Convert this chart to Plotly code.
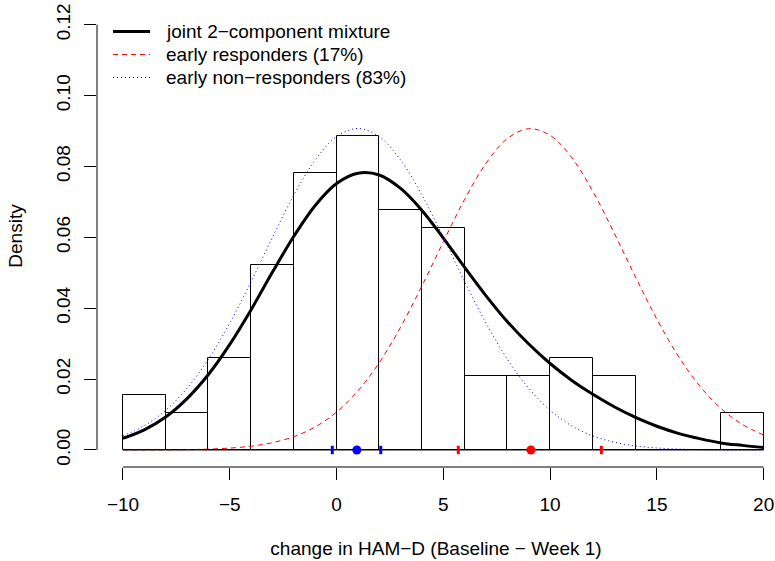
import plotly.graph_objects as go

# Histogram (density scale), bins of width 2
bin_left = [-10, -8, -6, -4, -2, 0, 2, 4, 6, 8, 10, 12, 14, 16, 18]
bin_width = 2
bin_density = [0.0156, 0.0104, 0.0260, 0.0521, 0.0781, 0.0885, 0.0677, 0.0625,
               0.0208, 0.0208, 0.0260, 0.0208, 0.0, 0.0, 0.0104]

# Density curves at integer x
curve_x = list(range(-10, 21))
mixture_y = [0.0033, 0.0057, 0.0093, 0.0145, 0.0213, 0.0298, 0.0396, 0.0502, 0.0603,
             0.0690, 0.0752, 0.0781, 0.0776, 0.0738, 0.0676, 0.0598, 0.0515, 0.0435,
             0.0362, 0.0299, 0.0244, 0.0197, 0.0157, 0.0122, 0.0092, 0.0067, 0.0047,
             0.0032, 0.0020, 0.0013, 0.0007]
responders_y = [0.00001, 0.00002, 0.00005, 0.00011, 0.00025, 0.00053, 0.00108, 0.00207,
                0.00376, 0.00651, 0.01068, 0.01666, 0.02466, 0.03468, 0.04632, 0.05874,
                0.07074, 0.08091, 0.08788, 0.09065, 0.08879, 0.08260, 0.07297, 0.06121,
                0.04877, 0.03690, 0.02651, 0.01809, 0.01172, 0.00721, 0.00422]
nonresponders_y = [0.00398, 0.00685, 0.0112, 0.0174, 0.0256, 0.0358, 0.0475, 0.0600,
                   0.0719, 0.0818, 0.0884, 0.0907, 0.0884, 0.0818, 0.0719, 0.0600,
                   0.0475, 0.0358, 0.0256, 0.0174, 0.0112, 0.00685, 0.00398, 0.00220,
                   0.00115, 0.00057, 0.00027, 0.00012, 0.00005, 0.00002, 0.00001]

# Component means and interval limits (rug marks on the baseline)
nonresp_mean = 0.95
nonresp_ci = [-0.2, 2.07]
resp_mean = 9.1
resp_ci = [5.7, 12.4]

legend_labels = ["joint 2\u2212component mixture",
                 "early responders (17%)",
                 "early non\u2212responders (83%)"]

x_ticks = [-10, -5, 0, 5, 10, 15, 20]
y_ticks = [0.00, 0.02, 0.04, 0.06, 0.08, 0.10, 0.12]

FONT = "Liberation Sans, Arial, Helvetica, sans-serif"
BLACK_LINE = dict(color="black", width=3)
RED_LINE = dict(color="#FF0000", width=1, dash="5px,4px")
BLUE_LINE = dict(color="#0000FF", width=1, dash="1px,3px")

fig = go.Figure()

fig.add_trace(go.Bar(
    x=[b + bin_width / 2 for b in bin_left], y=bin_density, width=bin_width,
    marker=dict(color="white", line=dict(color="black", width=1)),
    showlegend=False, hoverinfo="x+y"))

fig.add_trace(go.Scatter(
    x=curve_x, y=mixture_y, mode="lines", name=legend_labels[0], showlegend=False,
    line=dict(BLACK_LINE, shape="spline")))
fig.add_trace(go.Scatter(
    x=curve_x, y=responders_y, mode="lines", name=legend_labels[1], showlegend=False,
    line=dict(RED_LINE, shape="spline")))
fig.add_trace(go.Scatter(
    x=curve_x, y=nonresponders_y, mode="lines", name=legend_labels[2], showlegend=False,
    line=dict(BLUE_LINE, shape="spline")))

# baseline along the histogram
fig.add_trace(go.Scatter(
    x=[bin_left[0], bin_left[-1] + bin_width], y=[0, 0], mode="lines",
    line=dict(color="black", width=1), showlegend=False, hoverinfo="skip"))

# interval marks
fig.add_trace(go.Scatter(
    x=nonresp_ci, y=[0, 0], mode="markers", showlegend=False,
    marker=dict(symbol="line-ns", size=6, line=dict(color="#0000FF", width=3))))
fig.add_trace(go.Scatter(
    x=resp_ci, y=[0, 0], mode="markers", showlegend=False,
    marker=dict(symbol="line-ns", size=6, line=dict(color="#FF0000", width=3))))
fig.add_trace(go.Scatter(
    x=[nonresp_mean], y=[0], mode="markers", showlegend=False,
    marker=dict(symbol="circle", size=9, color="#0000FF")))
fig.add_trace(go.Scatter(
    x=[resp_mean], y=[0], mode="markers", showlegend=False,
    marker=dict(symbol="circle", size=9, color="#FF0000")))

# R-style axis lines spanning only the tick range
fig.add_shape(type="line", xref="x", yref="paper", x0=x_ticks[0], x1=x_ticks[-1],
              y0=0, y1=0, line=dict(color="black", width=1))
fig.add_shape(type="line", xref="paper", yref="y", x0=0, x1=0,
              y0=y_ticks[0], y1=y_ticks[-1], line=dict(color="black", width=1))

# R-style legend (top-left)
legend_rows_y = [0.9426, 0.8929, 0.8431]
for label, ln, ly in zip(legend_labels, [BLACK_LINE, RED_LINE, BLUE_LINE], legend_rows_y):
    fig.add_shape(type="line", xref="paper", yref="paper", x0=0.0236, x1=0.0782,
                  y0=ly, y1=ly, line=ln)
    fig.add_annotation(xref="paper", yref="paper", x=0.099, y=ly, text=label,
                       showarrow=False, xanchor="left", yanchor="middle",
                       font=dict(size=19, family=FONT, color="black"))

fig.update_layout(
    width=775, height=561,
    margin=dict(l=97, r=0, t=5, b=94),
    paper_bgcolor="white", plot_bgcolor="white",
    font=dict(family=FONT, size=19, color="black"),
    bargap=0,
    showlegend=False,
    xaxis=dict(range=[-11.217, 20.53], tickvals=x_ticks,
               ticktext=[str(v).replace("-", "\u2212") for v in x_ticks],
               ticks="outside", ticklen=12, tickcolor="black", tickwidth=1,
               showgrid=False, zeroline=False, showline=False,
               ticklabelstandoff=8,
               title=dict(text="change in HAM\u2212D (Baseline \u2212 Week 1)",
                          standoff=27, font=dict(size=19))),
    yaxis=dict(range=[-0.0048, 0.12556], tickvals=y_ticks,
               ticktext=["%.2f" % v for v in y_ticks],
               tickangle=-90,
               ticks="outside", ticklen=12, tickcolor="black", tickwidth=1,
               showgrid=False, zeroline=False, showline=False,
               ticklabelstandoff=6,
               title=dict(text="Density", standoff=25, font=dict(size=19))),
)

fig.write_html("out.html", config={"displayModeBar": False},
               post_script="document.body.style.margin='0px';")
